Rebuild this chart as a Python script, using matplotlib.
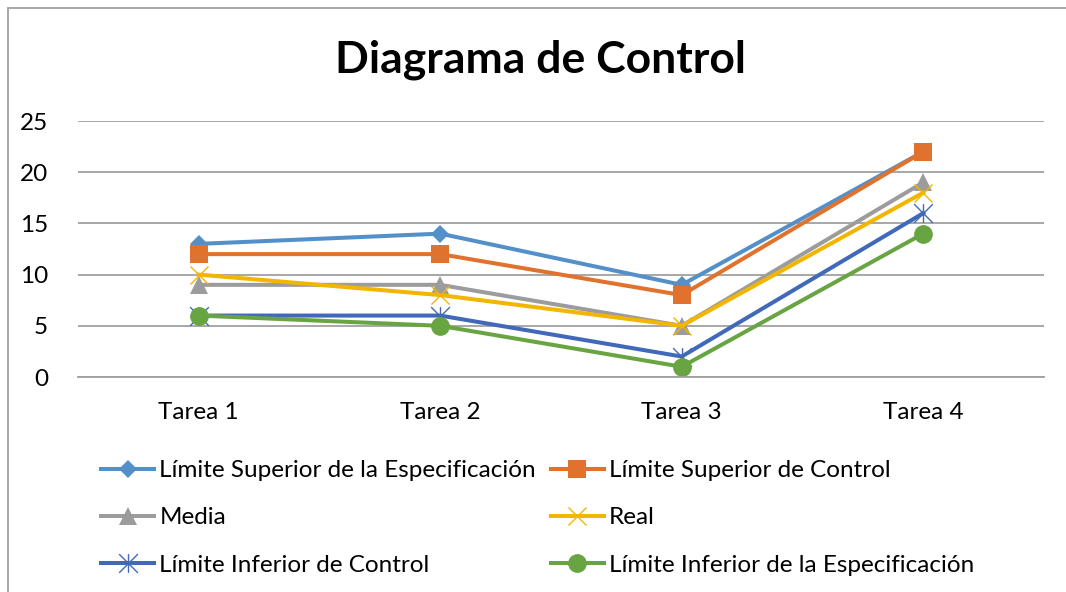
import matplotlib
matplotlib.use("Agg")
import matplotlib.pyplot as plt
from matplotlib.path import Path
from matplotlib.patches import Rectangle

categories = ["Tarea 1", "Tarea 2", "Tarea 3", "Tarea 4"]
lse = [13, 14, 9, 22]
lsc = [12, 12, 8, 22]
media = [9, 9, 5, 19]
real = [10, 8, 5, 18]
lic = [6, 6, 2, 16]
lie = [6, 5, 1, 14]
series_names = ["Límite Superior de la Especificación", "Límite Superior de Control",
                "Media", "Real", "Límite Inferior de Control",
                "Límite Inferior de la Especificación"]
yticks = [0, 5, 10, 15, 20, 25]

FONT = "Lato"
plt.rcParams['font.family'] = [FONT, 'DejaVu Sans']
FS = 17.5

star = Path([(-0.5, -0.5), (0.5, 0.5), (-0.5, 0.5), (0.5, -0.5), (0, -0.5), (0, 0.5)],
            [Path.MOVETO, Path.LINETO, Path.MOVETO, Path.LINETO, Path.MOVETO, Path.LINETO])

styles = [
    dict(color="#5390C9", marker="D", ms=9.5, mew=0),
    dict(color="#E0722D", marker="s", ms=13.5, mew=0),
    dict(color="#9C9C9C", marker="^", ms=13.5, mew=0),
    dict(color="#F2B500", marker="x", ms=13.5, mew=1.0),
    dict(color="#4069BA", marker=star, ms=13.5, mew=1.0, mfc="none"),
    dict(color="#69A443", marker="o", ms=13.5, mew=0),
]
data = [lse, lsc, media, real, lic, lie]

fig = plt.figure(figsize=(10.66, 5.92), dpi=100)
ax = fig.add_axes([78/1066, 1-377/592, (1044-78)/1066, (377-121)/592])

x = list(range(len(categories)))
handles = []
for name, vals, st in zip(series_names, data, styles):
    h, = ax.plot(x, vals, lw=2.9, label=name, solid_joinstyle='round', **st)
    handles.append(h)

ax.set_xlim(-0.5, 3.5)
ax.set_ylim(0, 25)
ax.set_yticks(yticks)
ax.set_xticks(x)
ax.set_xticklabels(categories)
ax.grid(axis='y', color='#A0A0A0', lw=1.3)
ax.set_axisbelow(True)
for s in ax.spines.values():
    s.set_visible(False)
ax.spines['bottom'].set_visible(True)
ax.spines['bottom'].set_color('#A0A0A0')
ax.spines['bottom'].set_linewidth(1.3)
ax.tick_params(axis='both', length=0, labelsize=FS, colors='black')
ax.tick_params(axis='y', pad=21.5)
ax.tick_params(axis='x', pad=18)

fig.text(540/1066, 1-60/592, "Diagrama de Control", ha='center', va='center',
         fontsize=32, fontweight='bold')

order = [0, 2, 4, 1, 3, 5]
leg = fig.legend([handles[i] for i in order], [series_names[i] for i in order],
                 ncol=2, loc='upper left', bbox_to_anchor=(101/1066, 1-460/592),
                 frameon=False, fontsize=FS, handlelength=2.2, handletextpad=0.2,
                 columnspacing=0.6, labelspacing=1.08, borderpad=0, borderaxespad=0)

fig.add_artist(Rectangle((8/1066, -0.1), 1.2, 1.1 - 8/592, transform=fig.transFigure,
                         fill=False, edgecolor='#A0A0A0', lw=1.3))

fig.savefig("out.png", dpi=100)
